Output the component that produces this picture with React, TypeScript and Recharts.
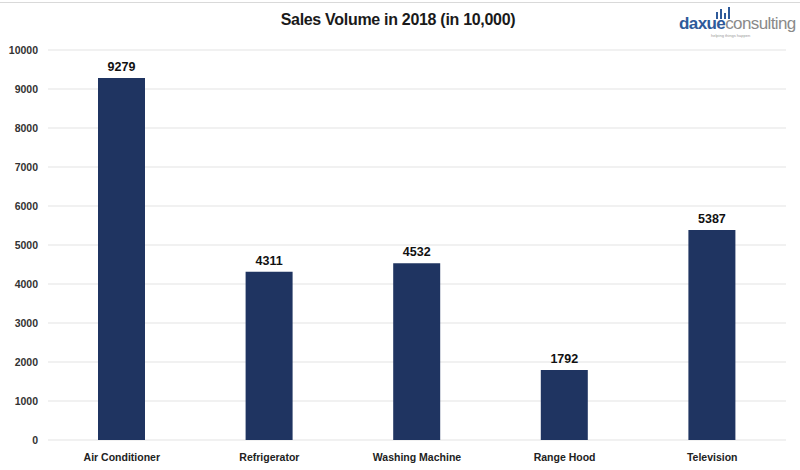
import React from 'react';
import { BarChart, Bar, XAxis, YAxis, CartesianGrid, LabelList } from 'recharts';

const categories = ['Air Conditioner', 'Refrigerator', 'Washing Machine', 'Range Hood', 'Television'];
const salesVolume = [9279, 4311, 4532, 1792, 5387];
const yTicks = [0, 1000, 2000, 3000, 4000, 5000, 6000, 7000, 8000, 9000, 10000];

const data = categories.map((name, i) => ({ name, value: salesVolume[i] }));

const FONT = '"Liberation Sans", Arial, sans-serif';

export default function App() {
  return (
    <div style={{ position: 'absolute', left: 0, top: 0, width: 800, height: 470, background: '#fff', fontFamily: FONT }}>
      <div style={{ position: 'absolute', left: 0, top: 2, width: 800, height: 1, background: '#d9d9d9' }} />
      <div
        style={{
          position: 'absolute',
          left: 0,
          width: 796,
          top: 11,
          textAlign: 'center',
          fontSize: 16,
          fontWeight: 'bold',
          color: '#1a1a1a',
          letterSpacing: -0.3,
        }}
      >
        Sales Volume in 2018 (in 10,000)
      </div>
      {/* logo */}
      <div style={{ position: 'absolute', left: 715, top: 5, width: 16, height: 12 }}>
        <svg width={16} height={12}>
          <rect x={1} y={5} width={2} height={7} fill="#2e5a9a" />
          <rect x={5} y={2} width={2} height={10} fill="#2e5a9a" />
          <rect x={9} y={6} width={2} height={6} fill="#2e5a9a" />
          <rect x={13} y={0} width={2} height={12} fill="#2e5a9a" />
        </svg>
      </div>
      <div style={{ position: 'absolute', left: 679, top: 14, fontSize: 17, letterSpacing: -0.6 }}>
        <span style={{ color: '#2e5a9a', fontWeight: 'bold' }}>daxue</span>
        <span style={{ color: '#8a8a8a' }}>consulting</span>
      </div>
      <div style={{ position: 'absolute', left: 711, top: 33, fontSize: 4, color: '#999' }}>helping things happen</div>
      <div style={{ position: 'absolute', left: 0, top: 0 }}>
        <BarChart width={800} height={470} data={data} margin={{ top: 50, right: 14, bottom: 0, left: 0 }}>
          <CartesianGrid vertical={false} stroke="#e3e3e3" strokeWidth={1} />
          <XAxis
            dataKey="name"
            axisLine={false}
            tickLine={false}
            height={30}
            tick={{ fontSize: 10.5, fontWeight: 'bold', fill: '#222', fontFamily: FONT }}
            tickMargin={8}
            interval={0}
          />
          <YAxis
            domain={[0, 10000]}
            ticks={yTicks}
            axisLine={false}
            tickLine={false}
            width={48}
            tick={{ fontSize: 10.5, fontWeight: 'bold', fill: '#333', fontFamily: FONT }}
            tickMargin={4}
          />
          <Bar dataKey="value" fill="#1f3461" barSize={47} isAnimationActive={false}>
            <LabelList
              dataKey="value"
              position="top"
              offset={7}
              style={{ fontSize: 12.5, fontWeight: 'bold', fill: '#111', fontFamily: FONT }}
            />
          </Bar>
        </BarChart>
      </div>
    </div>
  );
}
